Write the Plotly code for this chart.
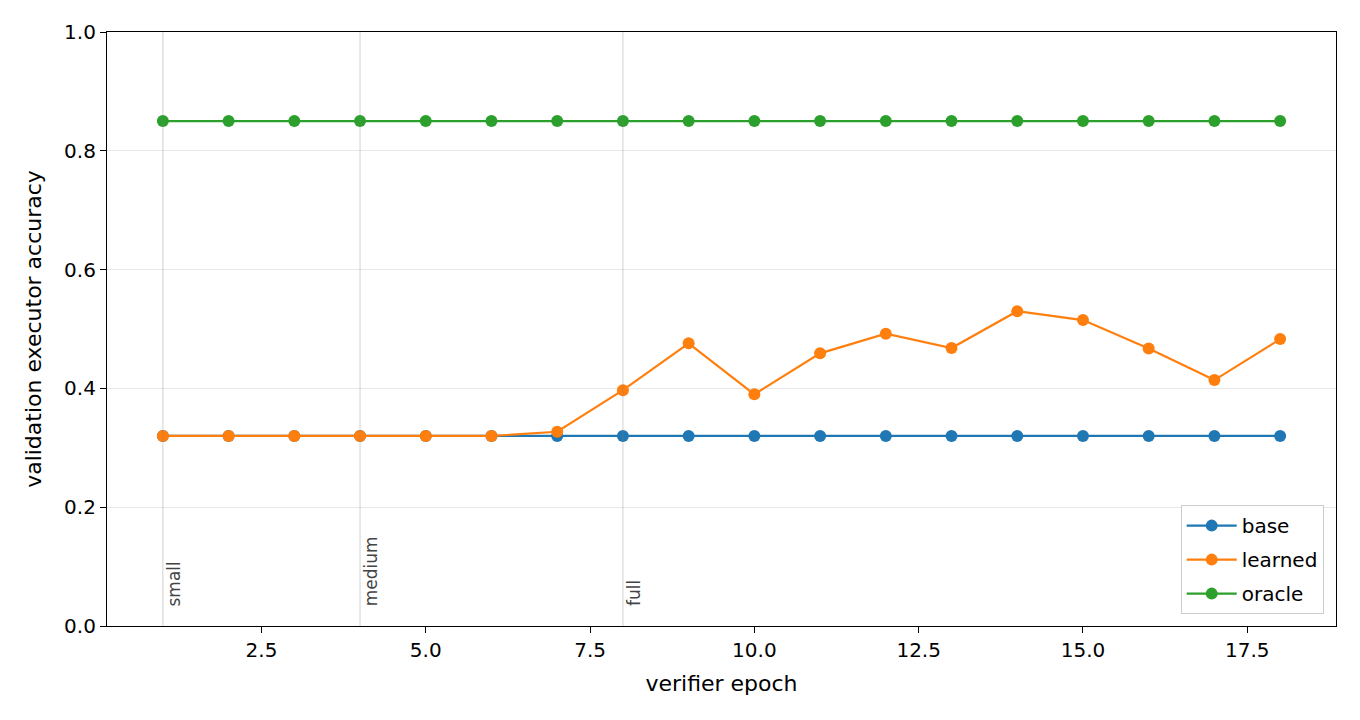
import plotly.graph_objects as go

epochs = list(range(1, 19))
base = [0.32] * 18
learned = [0.32, 0.32, 0.32, 0.32, 0.32, 0.32, 0.327, 0.397, 0.476, 0.390,
           0.459, 0.492, 0.468, 0.530, 0.515, 0.467, 0.414, 0.483]
oracle = [0.85] * 18

stage_epochs = [1, 4, 8]
stage_names = ["small", "medium", "full"]

colors = {"base": "#1f77b4", "learned": "#ff7f0e", "oracle": "#2ca02c"}

fig = go.Figure()

# stage markers
for ep, name in zip(stage_epochs, stage_names):
    fig.add_vline(x=ep, line=dict(color="rgba(128,128,128,0.3)", width=1.2))
    fig.add_annotation(x=ep, y=0.03, text=name, textangle=-90, showarrow=False,
                       xanchor="left", yanchor="bottom", xshift=-1,
                       font=dict(size=17, color="#444444"))

for name, vals in [("base", base), ("learned", learned), ("oracle", oracle)]:
    fig.add_trace(go.Scatter(x=epochs, y=vals, mode="lines+markers", name=name,
                             legendgroup=name,
                             line=dict(color=colors[name], width=2.2),
                             marker=dict(color=colors[name], size=12)))

axis_common = dict(showline=True, linecolor="black", linewidth=1.2, mirror=True,
                   ticks="outside", ticklen=6, tickcolor="black", zeroline=False,
                   tickfont=dict(size=20, color="black"))

# page body has 8px margin, so figure is shifted by 8px
fig.update_layout(
    width=1344, height=704,
    margin=dict(l=99, r=16, t=24, b=86),
    paper_bgcolor="white", plot_bgcolor="white",
    font=dict(family="DejaVu Sans", color="black"),
    xaxis=dict(range=[0.15, 18.85], tickvals=[2.5, 5, 7.5, 10, 12.5, 15, 17.5],
               ticktext=["2.5", "5.0", "7.5", "10.0", "12.5", "15.0", "17.5"],
               showgrid=False,
               title=dict(text="verifier epoch", font=dict(size=22), standoff=14),
               **axis_common),
    yaxis=dict(range=[0, 1], tickvals=[0, 0.2, 0.4, 0.6, 0.8, 1.0],
               ticktext=["0.0", "0.2", "0.4", "0.6", "0.8", "1.0"],
               showgrid=True, gridcolor="rgba(128,128,128,0.18)",
               title=dict(text="validation executor accuracy", font=dict(size=22), standoff=16),
               **axis_common),
    legend=dict(x=0.99, y=0.02, xanchor="right", yanchor="bottom",
                bordercolor="#cccccc", borderwidth=1, bgcolor="rgba(255,255,255,0.8)",
                font=dict(size=20), itemwidth=50, tracegroupgap=5,
                traceorder="grouped"),
)

fig.write_html("out.html")
